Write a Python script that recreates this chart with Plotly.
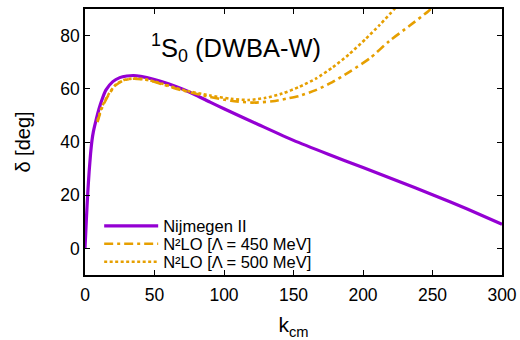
import plotly.graph_objects as go

# Nijmegen II phase shift
k_nij = [0, 1, 2, 3, 4, 5, 6, 8, 10, 12, 15, 20, 25, 30, 35, 40, 50, 60, 70, 80, 90,
         100, 125, 150, 175, 200, 225, 250, 275, 300]
d_nij = [0, 11, 21, 29, 35.5, 40.5, 43.8, 48.3, 52.3, 55.6, 59.5, 62.7, 64.2, 64.8, 65.0,
         64.7, 63.5, 61.9, 59.9, 57.6, 55.0, 52.5, 46.5, 40.6, 35.4, 30.4, 25.3, 20.2,
         14.8, 9.1]

# N2LO, Lambda = 450 MeV
k_450 = [9, 12, 17, 22, 28, 35, 45, 55, 70, 90, 105, 120, 135, 145, 154, 166, 178, 190,
         205, 219, 233, 247, 255]
d_450 = [47.5, 52.5, 57.8, 61.3, 63.2, 63.8, 63.3, 61.8, 59.4, 56.9, 55.5, 54.8, 55.3,
         56.3, 57.3, 59.5, 62.5, 66.3, 71.5, 78.0, 83.5, 89.2, 93]

# N2LO, Lambda = 500 MeV
k_500 = [9, 12, 17, 22, 28, 35, 45, 55, 70, 90, 105, 118, 130, 142, 154, 166, 178, 190,
         202, 212, 223, 230]
d_500 = [48, 53, 58, 61.5, 63.3, 63.9, 63.4, 62.0, 59.6, 57.5, 56.2, 55.8, 56.6, 58.2,
         60.7, 63.8, 68.0, 73.0, 78.8, 84.0, 90.2, 94]

x_ticks = [0, 50, 100, 150, 200, 250, 300]
y_ticks = [0, 20, 40, 60, 80]

PURPLE = "#9400D3"
ORANGE = "#E69F00"
FONT = "Liberation Sans, Arial, sans-serif"

fig = go.Figure()
fig.add_trace(go.Scatter(x=k_nij, y=d_nij, mode="lines", name="Nijmegen II", legend="legend",
                         line=dict(color=PURPLE, width=3.2, shape="spline", smoothing=0.6)))
fig.add_trace(go.Scatter(x=k_450, y=d_450, mode="lines", name="N²LO [Λ = 450 MeV]",
                         legend="legend2",
                         line=dict(color=ORANGE, width=2.6, dash="9px,4px,3px,4px",
                                   shape="spline", smoothing=0.6)))
fig.add_trace(go.Scatter(x=k_500, y=d_500, mode="lines", name="N²LO [Λ = 500 MeV]",
                         legend="legend3",
                         line=dict(color=ORANGE, width=2.6, dash="3px,2.5px",
                                   shape="spline", smoothing=0.6)))

axis_common = dict(showline=True, linecolor="black", linewidth=1.5, mirror="ticks",
                   ticks="inside", ticklen=5, tickcolor="black", tickwidth=1,
                   showgrid=False, zeroline=False, automargin=False,
                   tickfont=dict(family=FONT, size=17.5, color="black"))

fig.update_xaxes(range=[0, 300], tickvals=x_ticks, ticklabelstandoff=3, **axis_common,
                 title=dict(text="k<sub>cm</sub>", font=dict(family=FONT, size=21, color="black"),
                            standoff=14))
fig.update_yaxes(range=[-10, 90], tickvals=y_ticks, **axis_common,
                 title=dict(text="δ [deg]", font=dict(family=FONT, size=20, color="black"),
                            standoff=24))

fig.add_annotation(x=0.153, y=0.855, xref="paper", yref="paper", xanchor="left", yanchor="middle",
                   text="<sup>1</sup>S<sub>0</sub> (DWBA-W)", showarrow=False,
                   font=dict(family=FONT, size=25.5, color="black"))

leg = dict(x=0.034, xanchor="left", yanchor="middle", bgcolor="rgba(0,0,0,0)",
           font=dict(family=FONT, size=16.5, color="black"), itemwidth=54)

fig.update_layout(
    width=520, height=340,
    margin=dict(l=85, r=18, t=9, b=65),
    paper_bgcolor="white", plot_bgcolor="white",
    font=dict(family=FONT, color="black"),
    showlegend=True,
    legend=dict(y=0.184, **leg),
    legend2=dict(y=0.1165, **leg),
    legend3=dict(y=0.049, **leg),
)

fig.write_html("out.html", config={"displayModeBar": False},
               post_script="document.body.style.margin='0';document.body.style.padding='0';")
